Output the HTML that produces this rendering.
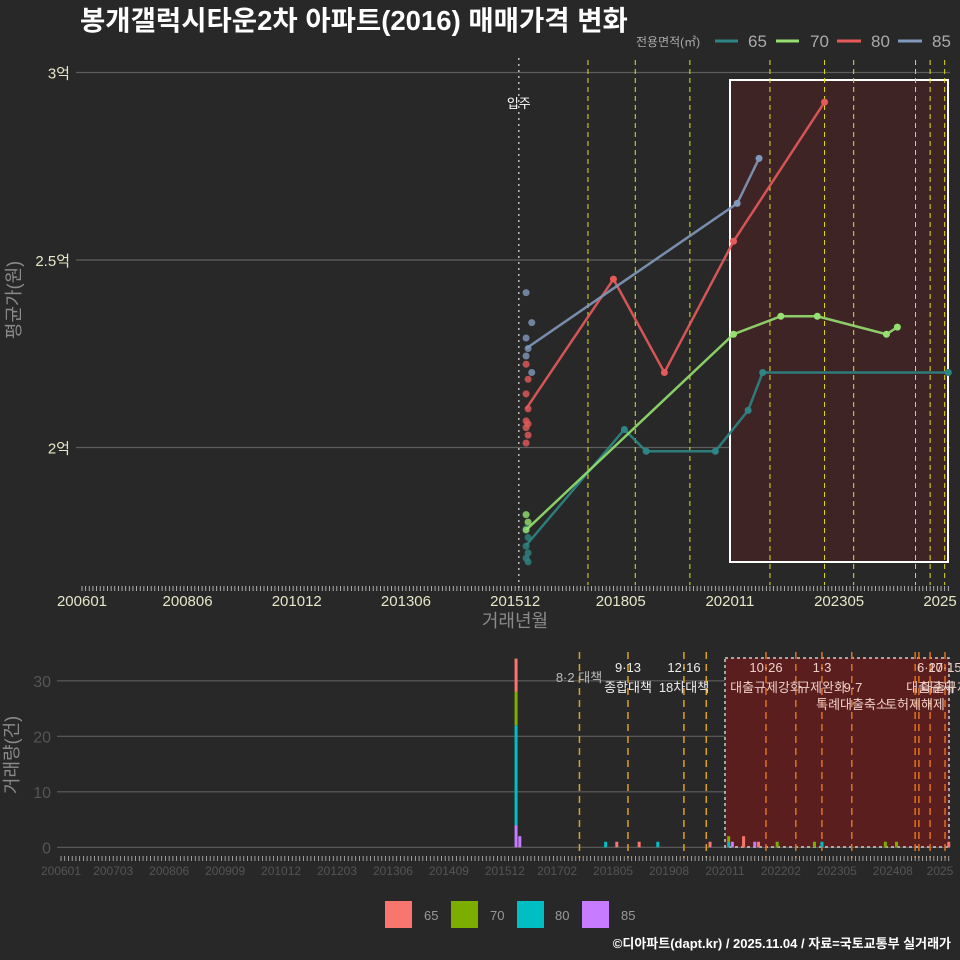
<!DOCTYPE html>
<html><head><meta charset="utf-8">
<style>
html,body{margin:0;padding:0;background:#282828;}
svg{display:block;font-family:"Liberation Sans","Noto Sans CJK KR",sans-serif;}
</style></head>
<body>
<svg id="chart" width="960" height="960" viewBox="0 0 960 960" xmlns="http://www.w3.org/2000/svg">
<rect x="0" y="0" width="960" height="960" fill="#282828"/>
<text x="80" y="30" fill="#ffffff" font-size="27.5" font-weight="bold">봉개갤럭시타운2차 아파트(2016) 매매가격 변화</text>
<g id="topG"></g>
<g id="botG"></g>
<text x="20" y="300" fill="#8a8a8a" font-size="18" text-anchor="middle" transform="rotate(-90 20 300)">평균가(원)</text>
<text x="515" y="627" fill="#8a8a8a" font-size="18" text-anchor="middle">거래년월</text>
<text x="18" y="755" fill="#8a8a8a" font-size="18" text-anchor="middle" transform="rotate(-90 18 755)">거래량(건)</text>
<g>
<text x="636" y="46" fill="#aaaaaa" font-size="12">전용면적(㎡)</text>
<line x1="715" y1="41" x2="738" y2="41" stroke="#2e8585" stroke-width="3"/>
<text x="748" y="47" fill="#aaaaaa" font-size="17">65</text>
<line x1="776" y1="41" x2="799" y2="41" stroke="#95e070" stroke-width="3"/>
<text x="810" y="47" fill="#aaaaaa" font-size="17">70</text>
<line x1="837" y1="41" x2="861" y2="41" stroke="#e65a5a" stroke-width="3"/>
<text x="871" y="47" fill="#aaaaaa" font-size="17">80</text>
<line x1="898" y1="41" x2="922" y2="41" stroke="#8199bd" stroke-width="3"/>
<text x="932" y="47" fill="#aaaaaa" font-size="17">85</text>
</g>
<g>
<rect x="385" y="901" width="27" height="27" fill="#F8766D"/>
<text x="424" y="920" fill="#999" font-size="13">65</text>
<rect x="451" y="901" width="27" height="27" fill="#7CAE00"/>
<text x="490" y="920" fill="#999" font-size="13">70</text>
<rect x="517" y="901" width="27" height="27" fill="#00BFC4"/>
<text x="555" y="920" fill="#999" font-size="13">80</text>
<rect x="582" y="901" width="27" height="27" fill="#C77CFF"/>
<text x="621" y="920" fill="#999" font-size="13">85</text>
</g>
<text x="951" y="948" fill="#ffffff" font-size="13" font-weight="bold" text-anchor="end">©디아파트(dapt.kr) / 2025.11.04 / 자료=국토교통부 실거래가</text>
</svg>
<script>
// ---------- data ----------
const yTicks = [2, 2.5, 3];
const yTickLabels = ['2억', '2.5억', '3억'];
const xTickMonths = ['200601','200806','201012','201306','201512','201805','202011','202305','202511'];
const xTickLabels = ['200601','200806','201012','201306','201512','201805','202011','202305','2025'];
const moveInMonth = '201601';
const policyMonths = ['201708','201809','201912','202110','202301','202309','202502','202506','202510'];
const policyMonthsBot = ['201708','201809','201912','202006','202110','202206','202301','202309','202502','202503','202506','202510'];

const line65Months = ['201603','201806','201812','202007','202104','202108','202511'];
const line65Values = [1.739, 2.048, 1.990, 1.990, 2.099, 2.200, 2.200];
const line70Months = ['201603','202012','202201','202211','202406','202409'];
const line70Values = [1.780, 2.302, 2.350, 2.350, 2.302, 2.321];
const line80Months = ['201603','201803','201905','202012','202301'];
const line80Values = [2.103, 2.449, 2.200, 2.550, 2.921];
const line85Months = ['201603','202101','202107'];
const line85Values = [2.264, 2.651, 2.771];

const scat65Months = ['201603','201603','201603','201603','201603','201603'];
const scat65Values = [1.783, 1.760, 1.737, 1.719, 1.705, 1.695];
const scat70Months = ['201603','201603','201603'];
const scat70Values = [1.821, 1.801, 1.780];
const scat80Months = ['201603','201603','201603','201603','201603','201603','201603','201603','201603'];
const scat80Values = [2.222, 2.182, 2.143, 2.103, 2.071, 2.063, 2.053, 2.033, 2.012];
const scat85Months = ['201603','201604','201603','201603','201603','201604'];
const scat85Values = [2.413, 2.333, 2.292, 2.264, 2.244, 2.200];

const barMonths = ['201603','201604','201803','201806','201812','201905','202007','202012','202101','202104','202107','202108','202201','202211','202301','202406','202409','202511'];
const vol65 = [6,0,0,1,1,0,1,0,0,2,0,1,0,0,0,0,0,1];
const vol70 = [6,0,0,0,0,0,0,1,0,0,0,0,1,1,0,1,1,0];
const vol80 = [18,0,1,0,0,1,0,1,0,0,0,0,0,0,1,0,0,0];
const vol85 = [4,2,0,0,0,0,0,0,1,0,1,0,0,0,0,0,0,0];
const volTicks = [0,10,20,30];
const botTickMonths = ['200601','200703','200806','200909','201012','201203','201306','201409','201512','201702','201805','201908','202011','202202','202305','202408','202511'];
const botTickLabels = ['200601','200703','200806','200909','201012','201203','201306','201409','201512','201702','201805','201908','202011','202202','202305','202408','2025'];

// ---------- scales ----------
const NS='http://www.w3.org/2000/svg';
function mIdx(s){return (parseInt(s.slice(0,4))-2006)*12 + parseInt(s.slice(4,6))-1;}
function xT(s){return 82 + 3.64*mIdx(s);}
function yT(v){return 447.5 - (v-2)*375;}
function xB(s){return 61 + 3.73*mIdx(s);}
function yB(v){return 847.3 - v*5.55;}
function mk(parent, tag, attrs, text){
  const e=document.createElementNS(NS,tag);
  for(const k in attrs) e.setAttribute(k, attrs[k]);
  if(text!==undefined) e.textContent=text;
  parent.appendChild(e); return e;
}
const topG=document.getElementById('topG');
const botG=document.getElementById('botG');

// ---------- top chart ----------
yTicks.forEach((v,i)=>{
  const g=mk(topG,'line',{x1:76,y1:yT(v),x2:950,y2:yT(v),stroke:'#5e5e5e','stroke-width':1.3});
  
  
  const t=mk(topG,'text',{x:70,y:yT(v)+6,fill:'#e6e6c8','font-size':15,'text-anchor':'end'},yTickLabels[i]);
  
  
});
const sh=mk(topG,'rect',{x:730,y:80,width:218,height:482,fill:'#3f2426',stroke:'#ffffff','stroke-width':2});


for(let m=0;m<=238;m++){
  const x=82+3.64*m;
  const tk=mk(topG,'line',{x1:x,y1:586,x2:x,y2:591,stroke:'#cccccc','stroke-width':0.8});
  
  
}
xTickMonths.forEach((s,i)=>{
  const t=mk(topG,'text',{x:Math.min(xT(s),940),y:606,fill:'#e6e6c8','font-size':15,'text-anchor':'middle'},xTickLabels[i]);
  
  
});
policyMonths.forEach(s=>{
  const l=mk(topG,'line',{x1:xT(s),y1:60,x2:xT(s),y2:585,stroke:'#e0e020','stroke-width':1,'stroke-dasharray':'5,4'});
  
  
});
const mv=mk(topG,'line',{x1:xT(moveInMonth),y1:58,x2:xT(moveInMonth),y2:588,stroke:'#bbbbbb','stroke-width':1.5,'stroke-dasharray':'2,4'});


const mvt=mk(topG,'text',{x:xT(moveInMonth),y:108,fill:'#ffffff','font-size':13,'text-anchor':'middle'},'입주');



function series(months, vals, sm, sv, color, name){
  sm.forEach((s,i)=>{
    const c=mk(topG,'circle',{cx:xT(s)+(i%2?2:0),cy:yT(sv[i]),r:3.5,fill:color,opacity:0.8});
    
    
  });
  const pts=months.map((s,i)=>xT(s)+','+yT(vals[i])).join(' ');
  const pl=mk(topG,'polyline',{points:pts,fill:'none',stroke:color,'stroke-width':2.5,opacity:0.9});
  
  
  months.forEach((s,i)=>{
    if(i===0) return;
    const c=mk(topG,'circle',{cx:xT(s),cy:yT(vals[i]),r:3.5,fill:color});
    
    
  });
}
series(line65Months,line65Values,scat65Months,scat65Values,'#2e8585','series-65');
series(line70Months,line70Values,scat70Months,scat70Values,'#95e070','series-70');
series(line80Months,line80Values,scat80Months,scat80Values,'#e65a5a','series-80');
series(line85Months,line85Values,scat85Months,scat85Values,'#8199bd','series-85');

// ---------- bottom chart ----------
volTicks.forEach(v=>{
  const g=mk(botG,'line',{x1:57,y1:yB(v),x2:950,y2:yB(v),stroke:'#5e5e5e','stroke-width':1.2});
  
  
  const t=mk(botG,'text',{x:51,y:yB(v)+6,fill:'#555555','font-size':16,'text-anchor':'end'},String(v));
  
  
});
const bsh=mk(botG,'rect',{x:725,y:658,width:224,height:189,fill:'#5a1e1e',stroke:'#cccccc','stroke-width':1.5,'stroke-dasharray':'3,3'});


policyMonthsBot.forEach(s=>{
  const x=xB(s);
  const l=mk(botG,'line',{x1:x,y1:652,x2:x,y2:858,stroke:x>725?'#e07020':'#e0a020','stroke-width':1.5,'stroke-dasharray':'7,5'});
  
  
});
for(let m=0;m<=238;m++){
  const x=61+3.73*m;
  const tk=mk(botG,'line',{x1:x,y1:856,x2:x,y2:861,stroke:'#bbbbbb','stroke-width':0.8});
  
  
}
botTickMonths.forEach((s,i)=>{
  const t=mk(botG,'text',{x:Math.min(xB(s),940),y:875,fill:'#555555','font-size':12,'text-anchor':'middle'},botTickLabels[i]);
  
  
});
const stackSeries=[[vol85,'#C77CFF','85'],[vol80,'#00BFC4','80'],[vol70,'#7CAE00','70'],[vol65,'#F8766D','65']];
barMonths.forEach((s,i)=>{
  let base=0;
  stackSeries.forEach(([arr,col,nm])=>{
    const v=arr[i]; if(!v) return;
    const r=mk(botG,'rect',{x:xB(s)-1.5,y:yB(base+v),width:3,height:yB(base)-yB(base+v),fill:col});
    
    
    base+=v;
  });
});
const ann=[
 ['8·2 대책',579,682,'#bbbbbb'],['9·13',628,672,'#eeeeee'],['종합대책',628,692,'#eeeeee'],
 ['12·16',684,672,'#eeeeee'],['18차대책',684,692,'#eeeeee'],
 ['10·26',766,672,'#f0d0c8'],['대출규제강화',766,692,'#f0d0c8'],
 ['1·3',822,672,'#f0d0c8'],['규제완화',822,692,'#f0d0c8'],['9·7',853,692,'#f0d0c8'],
 ['특례대출축소',852,709,'#f0d0c8'],['토허제해제',915,709,'#f0d0c8'],
 ['6·27',930,672,'#f0d0c8'],['대출규제',930,692,'#f0d0c8'],['10·15',945,672,'#f0d0c8'],['대출규제',945,692,'#f0d0c8']
];
ann.forEach(a=>{
  const t=mk(botG,'text',{x:a[1],y:a[2],fill:a[3],'font-size':13,'text-anchor':'middle'},a[0]);
  
  
});
</script>
</body></html>
